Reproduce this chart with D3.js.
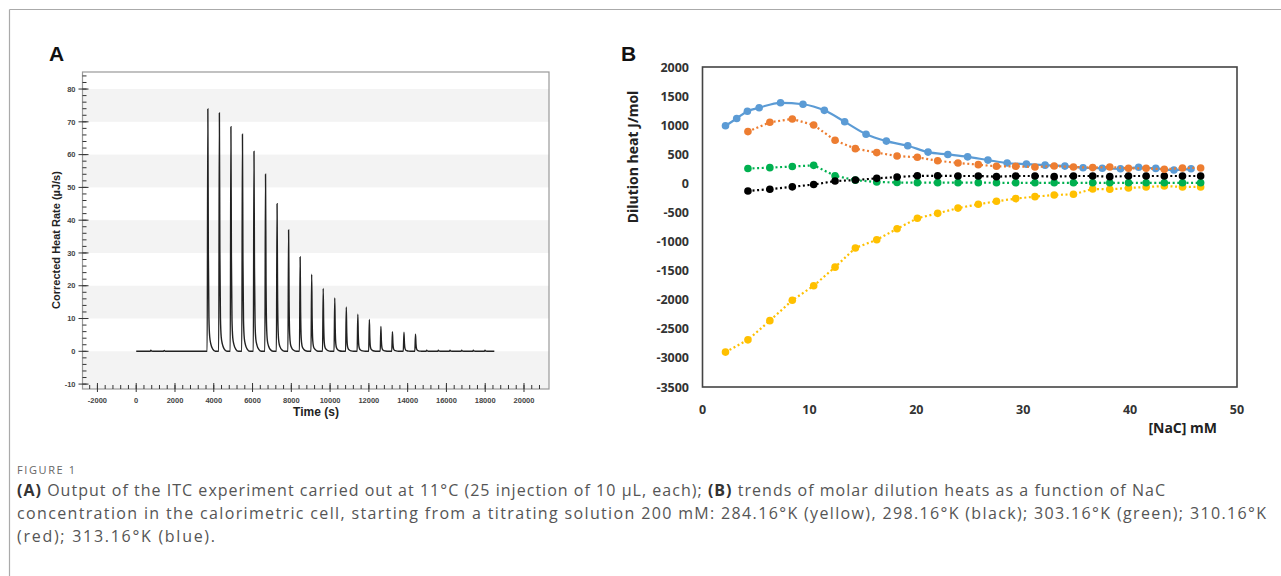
<!DOCTYPE html>
<html><head><meta charset="utf-8">
<script src="https://cdn.jsdelivr.net/npm/d3@7"></script>
<style>body{margin:0;background:#fff} svg{display:block}</style>
</head><body>
<svg id="c" width="1281" height="576"></svg>
<script>
// ---------- Panel A data ----------
const injTimes = [3660, 4255, 4850, 5445, 6040, 6635, 7230, 7825, 8420, 9015, 9610, 10205, 10800, 11395, 11990, 12585, 13180, 13775, 14370];
const injPeaks = [73.9, 72.7, 68.5, 66.2, 61.0, 54.0, 45.0, 37.0, 28.8, 23.5, 19.2, 16.3, 13.5, 11.3, 9.7, 7.6, 6.0, 5.8, 5.2];
const smallInjTimes = [722, 1409, 14948, 15550, 16150, 16753, 17354, 17955];
const smallInjPeaks = [0.3, 0.25, 0.35, 0.3, 0.3, 0.3, 0.3, 0.3];
const traceStart = 0, traceEnd = 18470;
const peakProfileOffsets = [0, 35, 60, 90, 130, 190, 280, 420];
const peakProfileFractions = [0, 1, 0.42, 0.14, 0.06, 0.03, 0.01, 0];
const xTicksA = [-2000, 0, 2000, 4000, 6000, 8000, 10000, 12000, 14000, 16000, 18000, 20000];
const yTicksA = [-10, 0, 10, 20, 30, 40, 50, 60, 70, 80];
const bandLowA = [-11.5, 10, 30, 50, 70];
const bandHighA = [0, 20, 40, 60, 80];

// ---------- Panel B data ----------
const concX = [2.15, 4.25, 6.3, 8.4, 10.4, 12.4, 14.3, 16.3, 18.2, 20.1, 22.0, 23.9, 25.8, 27.5, 29.3, 31.1, 32.9, 34.7, 36.5, 38.1, 39.85, 41.5, 43.2, 44.9, 46.6];
const yellowY = [-2900, -2690, -2360, -2010, -1760, -1440, -1110, -970, -780, -600, -515, -425, -360, -308, -262, -228, -200, -188, -97, -102, -80, -62, -45, -62, -62];
const orangeY = [null, 890, 1050, 1107, 1003, 740, 597, 529, 470, 448, 388, 350, 322, 293, 293, 281, 298, 281, 271, 281, 259, 259, 242, 265, 265];
const greenY  = [null, 255, 270, 290, 310, 130, 55, 23, 15, 12, 12, 12, 12, 10, 10, 10, 10, 10, 10, 10, 10, 10, 10, 10, 10];
const blackY  = [null, -130, -100, -60, -20, 40, 57, 86, 109, 130, 130, 127, 127, 115, 127, 127, 115, 127, 127, 115, 127, 127, 127, 127, 127];
const blueX = [2.15, 3.2, 4.2, 5.3, 7.3, 9.4, 11.4, 13.3, 15.3, 17.2, 19.2, 21.1, 22.95, 24.8, 26.7, 28.5, 30.3, 32.05, 33.9, 35.6, 37.4, 39.1, 40.8, 42.4, 44.1, 45.7];
const blueY = [990, 1115, 1240, 1300, 1385, 1360, 1255, 1058, 844, 726, 646, 537, 497, 456, 400, 350, 330, 313, 297, 268, 260, 250, 276, 257, 230, 250];
const xTicksB = [0, 10, 20, 30, 40, 50];
const yTicksB = [2000, 1500, 1000, 500, 0, -500, -1000, -1500, -2000, -2500, -3000, -3500];

const svg = d3.select("#c");

// figure frame
svg.append("line").attr("x1", 9.5).attr("x2", 1281).attr("y1", 9.5).attr("y2", 9.5).attr("stroke", "#aaa").attr("stroke-width", 1.2);
svg.append("line").attr("x1", 9.5).attr("x2", 9.5).attr("y1", 9.5).attr("y2", 576).attr("stroke", "#aaa").attr("stroke-width", 1.2);

// ---------- Panel A ----------
const xA = d3.scaleLinear().domain([-2770, 21290]).range([82.5, 549]);
const yA = d3.scaleLinear().domain([-11.5, 85.2]).range([389, 72]);
const gA = svg.append("g");
gA.selectAll("rect.band").data(bandLowA).join("rect")
  .attr("x", xA.range()[0]).attr("width", xA.range()[1] - xA.range()[0])
  .attr("y", (d, i) => yA(bandHighA[i])).attr("height", (d, i) => yA(d) - yA(bandHighA[i]))
  .attr("fill", "#f3f3f3");
gA.append("rect").attr("x", 82.5).attr("y", 72).attr("width", 549 - 82.5).attr("height", 389 - 72)
  .attr("fill", "none").attr("stroke", "#999").attr("stroke-width", 1.2);

// build trace
const trace = [[traceStart, 0]];
const allInj = injTimes.map((t, i) => [t, injPeaks[i]]).concat(smallInjTimes.map((t, i) => [t, smallInjPeaks[i]])).sort((a, b) => a[0] - b[0]);
allInj.forEach(([t, h]) => {
  peakProfileOffsets.forEach((o, k) => trace.push([t + o, h * peakProfileFractions[k]]));
});
trace.push([traceEnd, 0]);
gA.append("path").datum(trace)
  .attr("d", d3.line().x(d => xA(d[0])).y(d => yA(d[1])).curve(d3.curveMonotoneX))
  .attr("fill", "none").attr("stroke", "#222").attr("stroke-width", 1.4);

// axes A
const gxA = gA.append("g").attr("transform", "translate(0,389)");
const minorX = d3.range(-2400, 21200, 400);
gxA.selectAll("line.mn").data(minorX).join("line")
  .attr("x1", d => xA(d)).attr("x2", d => xA(d)).attr("y1", 0).attr("y2", -4)
  .attr("stroke", "#333").attr("stroke-width", 1);
gxA.selectAll("line.mj").data(xTicksA).join("line")
  .attr("x1", d => xA(d)).attr("x2", d => xA(d)).attr("y1", 3).attr("y2", -6)
  .attr("stroke", "#333").attr("stroke-width", 1);
gxA.selectAll("text").data(xTicksA).join("text")
  .attr("x", d => xA(d)).attr("y", 14).attr("text-anchor", "middle")
  .attr("font-family", "Liberation Sans, Arial, sans-serif").attr("font-weight", "bold").attr("font-size", 7.5)
  .attr("fill", "#444").text(d => d);
const gyA = gA.append("g").attr("transform", "translate(82.5,0)");
const minorY = d3.range(-10, 86, 2);
gyA.selectAll("line.mn").data(minorY).join("line")
  .attr("x1", 0).attr("x2", 4).attr("y1", d => yA(d)).attr("y2", d => yA(d))
  .attr("stroke", "#333").attr("stroke-width", 1);
gyA.selectAll("line.mj").data(yTicksA).join("line")
  .attr("x1", -4).attr("x2", 6).attr("y1", d => yA(d)).attr("y2", d => yA(d))
  .attr("stroke", "#333").attr("stroke-width", 1);
gyA.selectAll("text").data(yTicksA).join("text")
  .attr("x", -7).attr("y", d => yA(d) + 2.7).attr("text-anchor", "end")
  .attr("font-family", "Liberation Sans, Arial, sans-serif").attr("font-weight", "bold").attr("font-size", 7.5)
  .attr("fill", "#444").text(d => d);
gA.append("text").attr("transform", "translate(59.5,240) rotate(-90)").attr("text-anchor", "middle")
  .attr("font-family", "Liberation Sans, Arial, sans-serif").attr("font-weight", "bold").attr("font-size", 11)
  .attr("fill", "#222").text("Corrected Heat Rate (µJ/s)");
gA.append("text").attr("x", 316).attr("y", 416).attr("text-anchor", "middle")
  .attr("font-family", "Liberation Sans, Arial, sans-serif").attr("font-weight", "bold").attr("font-size", 12)
  .attr("fill", "#222").text("Time (s)");
svg.append("text").attr("x", 49).attr("y", 61).attr("font-family", "Liberation Sans, Arial, sans-serif")
  .attr("font-weight", "bold").attr("font-size", 21).attr("fill", "#111").text("A");

// ---------- Panel B ----------
const xB = d3.scaleLinear().domain([0, 50]).range([702.5, 1237]);
const yB = d3.scaleLinear().domain([-3500, 2000]).range([387, 67]);
const gB = svg.append("g");
gB.append("rect").attr("x", 702.5).attr("y", 67).attr("width", 1237 - 702.5).attr("height", 387 - 67)
  .attr("fill", "none").attr("stroke", "#444").attr("stroke-width", 1.6);

const fontB = "Open Sans, Noto Sans, sans-serif";
gB.selectAll("text.yt").data(yTicksB).join("text").attr("class", "yt")
  .attr("x", 689).attr("y", d => yB(d) + 4.5).attr("text-anchor", "end")
  .attr("font-family", fontB).attr("font-weight", "bold").attr("font-size", 12.5).attr("fill", "#333")
  .text(d => d);
gB.selectAll("text.xt").data(xTicksB).join("text").attr("class", "xt")
  .attr("x", d => xB(d)).attr("y", 413.5).attr("text-anchor", "middle")
  .attr("font-family", fontB).attr("font-weight", "bold").attr("font-size", 12.5).attr("fill", "#333")
  .text(d => d);
gB.append("text").attr("transform", "translate(638,157) rotate(-90)").attr("text-anchor", "middle")
  .attr("font-family", fontB).attr("font-weight", "bold").attr("font-size", 14).attr("fill", "#222")
  .text("Dilution heat J/mol");
gB.append("text").attr("x", 1217).attr("y", 433).attr("text-anchor", "end")
  .attr("font-family", fontB).attr("font-weight", "bold").attr("font-size", 14).attr("fill", "#222")
  .text("[NaC] mM");
svg.append("text").attr("x", 621).attr("y", 61).attr("font-family", "Liberation Sans, Arial, sans-serif")
  .attr("font-weight", "bold").attr("font-size", 21).attr("fill", "#111").text("B");

function series(xs, ys, color, solid) {
  const pts = xs.map((x, i) => [x, ys[i]]).filter(d => d[1] !== null);
  const line = d3.line().x(d => xB(d[0])).y(d => yB(d[1]));
  if (solid) line.curve(d3.curveMonotoneX);
  gB.append("path").datum(pts).attr("d", line).attr("fill", "none")
    .attr("stroke", color).attr("stroke-width", 2.2)
    .attr("stroke-dasharray", solid ? null : "2,2.6");
  gB.append("g").selectAll("circle").data(pts).join("circle")
    .attr("cx", d => xB(d[0])).attr("cy", d => yB(d[1])).attr("r", 3.8)
    .attr("fill", color);
}
series(concX, yellowY, "#ffc000", false);
series(concX, greenY, "#00b050", false);
series(concX, blackY, "#000000", false);
series(blueX, blueY, "#5b9bd5", true);
series(concX, orangeY, "#ed7d31", false);

// ---------- Caption ----------
const capFont = "Open Sans, Noto Sans, sans-serif";
svg.append("text").attr("x", 17).attr("y", 474).attr("font-family", capFont).attr("font-size", 11)
  .attr("fill", "#666").attr("textLength", 58).attr("lengthAdjust", "spacing").text("FIGURE 1");
const capLines = [
  [["(A)", true], [" Output of the ITC experiment carried out at 11°C (25 injection of 10 µL, each); ", false], ["(B)", true], [" trends of molar dilution heats as a function of NaC", false]],
  [["concentration in the calorimetric cell, starting from a titrating solution 200 mM: 284.16°K (yellow), 298.16°K (black); 303.16°K (green); 310.16°K", false]],
  [["(red); 313.16°K (blue).", false]]
];
const capY = [496, 519, 542];
const capW = [1148, 1249, 198];
capLines.forEach((ln, i) => {
  const t = svg.append("text").attr("x", 17).attr("y", capY[i]).attr("font-family", capFont)
    .attr("font-size", 16).attr("fill", "#555")
    .attr("textLength", capW[i]).attr("lengthAdjust", "spacing");
  ln.forEach(([s, b]) => t.append("tspan").attr("font-weight", b ? "bold" : "normal").attr("fill", b ? "#333" : "#555").text(s));
});
</script>
</body></html>
